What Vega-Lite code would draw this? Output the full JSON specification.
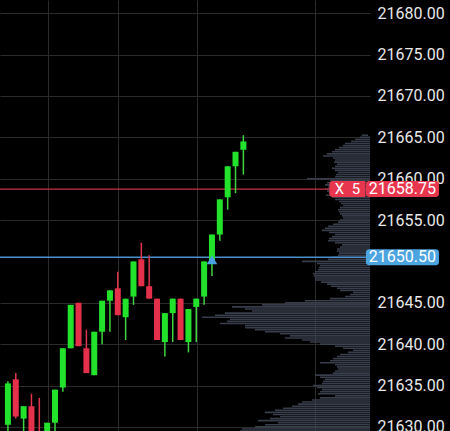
{
  "$schema": "https://vega.github.io/schema/vega-lite/v6.json",
  "width": 370,
  "height": 431,
  "autosize": {"type": "none"},
  "padding": {"left": 0, "top": 0, "right": 80, "bottom": 0},
  "background": "#000000",
  "config": {"view": {"stroke": null}, "font": "Roboto"},
  "datasets": {
    "candles": [
      {"i": 1, "o": 21630.25, "h": 21635.5, "l": 21629.0, "c": 21635.25},
      {"i": 2, "o": 21635.75, "h": 21636.5, "l": 21631.0, "c": 21631.25},
      {"i": 3, "o": 21631.0, "h": 21632.5, "l": 21629.0, "c": 21632.5},
      {"i": 4, "o": 21632.5, "h": 21634.0, "l": 21627.5, "c": 21628.0},
      {"i": 5, "o": 21629.0, "h": 21633.5, "l": 21627.0, "c": 21627.5},
      {"i": 6, "o": 21627.0, "h": 21630.5, "l": 21626.5, "c": 21630.5},
      {"i": 7, "o": 21630.5, "h": 21634.5, "l": 21629.0, "c": 21634.5},
      {"i": 8, "o": 21634.75, "h": 21639.5, "l": 21634.25, "c": 21639.5},
      {"i": 9, "o": 21639.5, "h": 21644.75, "l": 21639.5, "c": 21644.75},
      {"i": 10, "o": 21645.0, "h": 21645.0, "l": 21639.75, "c": 21639.75},
      {"i": 11, "o": 21639.5, "h": 21641.75, "l": 21636.5, "c": 21636.5},
      {"i": 12, "o": 21636.25, "h": 21641.5, "l": 21636.25, "c": 21641.5},
      {"i": 13, "o": 21641.5, "h": 21645.25, "l": 21640.0, "c": 21645.25},
      {"i": 14, "o": 21645.25, "h": 21646.5, "l": 21641.5, "c": 21646.5},
      {"i": 15, "o": 21646.75, "h": 21648.75, "l": 21643.5, "c": 21643.5},
      {"i": 16, "o": 21643.25, "h": 21645.5, "l": 21640.5, "c": 21645.5},
      {"i": 17, "o": 21645.75, "h": 21650.0, "l": 21644.75, "c": 21650.0},
      {"i": 18, "o": 21650.25, "h": 21652.25, "l": 21647.0, "c": 21647.0},
      {"i": 19, "o": 21647.0, "h": 21650.75, "l": 21645.5, "c": 21645.5},
      {"i": 20, "o": 21645.5, "h": 21645.5, "l": 21640.5, "c": 21640.5},
      {"i": 21, "o": 21640.25, "h": 21643.75, "l": 21638.5, "c": 21643.75},
      {"i": 22, "o": 21643.75, "h": 21645.5, "l": 21640.25, "c": 21645.5},
      {"i": 23, "o": 21645.5, "h": 21645.5, "l": 21640.5, "c": 21640.5},
      {"i": 24, "o": 21640.25, "h": 21644.25, "l": 21639.0, "c": 21644.25},
      {"i": 25, "o": 21644.5, "h": 21645.5, "l": 21640.25, "c": 21645.5},
      {"i": 26, "o": 21645.75, "h": 21650.0, "l": 21644.75, "c": 21650.0},
      {"i": 27, "o": 21650.0, "h": 21653.25, "l": 21648.25, "c": 21653.25},
      {"i": 28, "o": 21653.25, "h": 21657.5, "l": 21652.5, "c": 21657.5},
      {"i": 29, "o": 21657.75, "h": 21661.5, "l": 21656.25, "c": 21661.5},
      {"i": 30, "o": 21661.5, "h": 21663.25, "l": 21658.25, "c": 21663.25},
      {"i": 31, "o": 21663.5, "h": 21665.25, "l": 21660.5, "c": 21664.5}
    ],
    "levels": [
      {"price": 21658.75, "kind": "position", "label": "X\u00a0\u00a05"},
      {"price": 21650.5, "kind": "alert", "label": ""}
    ],
    "signals": [
      {"i": 27, "price": 21650.2}
    ],
    "profile": [
      {"p": 21665.25, "v": 3}, {"p": 21665.0, "v": 5}, {"p": 21664.75, "v": 10}, {"p": 21664.5, "v": 14},
      {"p": 21664.25, "v": 20}, {"p": 21664.0, "v": 22}, {"p": 21663.75, "v": 26}, {"p": 21663.5, "v": 30},
      {"p": 21663.25, "v": 33}, {"p": 21663.0, "v": 38}, {"p": 21662.75, "v": 42}, {"p": 21662.5, "v": 32},
      {"p": 21662.25, "v": 30}, {"p": 21662.0, "v": 31}, {"p": 21661.75, "v": 28}, {"p": 21661.5, "v": 30},
      {"p": 21661.25, "v": 33}, {"p": 21661.0, "v": 30}, {"p": 21660.75, "v": 27}, {"p": 21660.5, "v": 29},
      {"p": 21660.25, "v": 30}, {"p": 21660.0, "v": 58}, {"p": 21659.75, "v": 35}, {"p": 21659.5, "v": 38},
      {"p": 21659.25, "v": 40}, {"p": 21659.0, "v": 37}, {"p": 21658.75, "v": 40}, {"p": 21658.5, "v": 38},
      {"p": 21658.25, "v": 36}, {"p": 21658.0, "v": 39}, {"p": 21657.75, "v": 33}, {"p": 21657.5, "v": 30},
      {"p": 21657.25, "v": 26}, {"p": 21657.0, "v": 24}, {"p": 21656.75, "v": 22}, {"p": 21656.5, "v": 25},
      {"p": 21656.25, "v": 27}, {"p": 21656.0, "v": 26}, {"p": 21655.75, "v": 25}, {"p": 21655.5, "v": 23},
      {"p": 21655.25, "v": 22}, {"p": 21655.0, "v": 25}, {"p": 21654.75, "v": 27}, {"p": 21654.5, "v": 32},
      {"p": 21654.25, "v": 37}, {"p": 21654.0, "v": 40}, {"p": 21653.75, "v": 43}, {"p": 21653.5, "v": 36},
      {"p": 21653.25, "v": 30}, {"p": 21653.0, "v": 33}, {"p": 21652.75, "v": 36}, {"p": 21652.5, "v": 37},
      {"p": 21652.25, "v": 30}, {"p": 21652.0, "v": 23}, {"p": 21651.75, "v": 25}, {"p": 21651.5, "v": 28},
      {"p": 21651.25, "v": 28}, {"p": 21651.0, "v": 26}, {"p": 21650.75, "v": 27}, {"p": 21650.5, "v": 33},
      {"p": 21650.25, "v": 37}, {"p": 21650.0, "v": 63}, {"p": 21649.75, "v": 48}, {"p": 21649.5, "v": 45},
      {"p": 21649.25, "v": 46}, {"p": 21649.0, "v": 47}, {"p": 21648.75, "v": 50}, {"p": 21648.5, "v": 52},
      {"p": 21648.25, "v": 51}, {"p": 21648.0, "v": 50}, {"p": 21647.75, "v": 50}, {"p": 21647.5, "v": 44},
      {"p": 21647.25, "v": 38}, {"p": 21647.0, "v": 34}, {"p": 21646.75, "v": 28}, {"p": 21646.5, "v": 25},
      {"p": 21646.25, "v": 12}, {"p": 21646.0, "v": 15}, {"p": 21645.75, "v": 20}, {"p": 21645.5, "v": 35},
      {"p": 21645.25, "v": 60}, {"p": 21645.0, "v": 80}, {"p": 21644.75, "v": 103}, {"p": 21644.5, "v": 133},
      {"p": 21644.25, "v": 120}, {"p": 21644.0, "v": 113}, {"p": 21643.75, "v": 140}, {"p": 21643.5, "v": 150},
      {"p": 21643.25, "v": 163}, {"p": 21643.0, "v": 135}, {"p": 21642.75, "v": 138}, {"p": 21642.5, "v": 145},
      {"p": 21642.25, "v": 120}, {"p": 21642.0, "v": 120}, {"p": 21641.75, "v": 110}, {"p": 21641.5, "v": 100},
      {"p": 21641.25, "v": 85}, {"p": 21641.0, "v": 75}, {"p": 21640.75, "v": 80}, {"p": 21640.5, "v": 63},
      {"p": 21640.25, "v": 55}, {"p": 21640.0, "v": 45}, {"p": 21639.75, "v": 30}, {"p": 21639.5, "v": 22},
      {"p": 21639.25, "v": 12}, {"p": 21639.0, "v": 17}, {"p": 21638.75, "v": 25}, {"p": 21638.5, "v": 28},
      {"p": 21638.25, "v": 32}, {"p": 21638.0, "v": 35}, {"p": 21637.75, "v": 45}, {"p": 21637.5, "v": 30},
      {"p": 21637.25, "v": 28}, {"p": 21637.0, "v": 27}, {"p": 21636.75, "v": 30}, {"p": 21636.5, "v": 32},
      {"p": 21636.25, "v": 50}, {"p": 21636.0, "v": 45}, {"p": 21635.75, "v": 40}, {"p": 21635.5, "v": 42},
      {"p": 21635.25, "v": 43}, {"p": 21635.0, "v": 52}, {"p": 21634.75, "v": 48}, {"p": 21634.5, "v": 43},
      {"p": 21634.25, "v": 45}, {"p": 21634.0, "v": 47}, {"p": 21633.75, "v": 30}, {"p": 21633.5, "v": 45},
      {"p": 21633.25, "v": 53}, {"p": 21633.0, "v": 63}, {"p": 21632.75, "v": 67}, {"p": 21632.5, "v": 73},
      {"p": 21632.25, "v": 82}, {"p": 21632.0, "v": 90}, {"p": 21631.75, "v": 100}, {"p": 21631.5, "v": 92},
      {"p": 21631.25, "v": 85}, {"p": 21631.0, "v": 95}, {"p": 21630.75, "v": 107}, {"p": 21630.5, "v": 87},
      {"p": 21630.25, "v": 100}, {"p": 21630.0, "v": 110}, {"p": 21629.75, "v": 123}, {"p": 21629.5, "v": 125}
    ]
  },
  "encoding": {
    "x": {"type": "quantitative", "scale": {"domain": [0.628, 46.5], "nice": false, "zero": false},
      "axis": {"values": [6.1, 15.05, 25.15, 40.1], "labels": false, "ticks": false, "domain": false, "grid": true, "gridColor": "#2b2b2b", "gridWidth": 1, "title": null, "zindex": 0}},
    "y": {"type": "quantitative", "scale": {"domain": [21629.5, 21681.6], "nice": false, "zero": false},
      "axis": {"orient": "right", "values": [21630, 21635, 21640, 21645, 21655, 21660, 21665, 21670, 21675, 21680], "format": ".2f",
        "labelFont": "Roboto", "labelFontSize": 16, "labelColor": "#e8e8e8", "labelPadding": 7, "labelOverlap": false,
        "ticks": false, "domain": false, "grid": true, "gridColor": "#2b2b2b", "gridWidth": 1, "title": null, "zindex": 0}}
  },
  "layer": [
    {
      "data": {"name": "profile"},
      "mark": {"type": "tick", "orient": "horizontal", "thickness": 1.6, "clip": true, "color": "#3f4654", "opacity": 0.88},
      "encoding": {
        "x": {"datum": 46.5},
        "y": {"field": "p"},
        "size": {"field": "v", "type": "quantitative", "scale": {"domain": [0, 370], "range": [0, 740], "zero": true}, "legend": null}
      }
    },
    {
      "data": {"name": "levels"},
      "mark": {"type": "rule"},
      "encoding": {
        "y": {"field": "price"},
        "color": {"condition": {"test": "datum.kind == 'position'", "value": "#c8313f"}, "value": "#4b90cb"},
        "strokeWidth": {"condition": {"test": "datum.kind == 'position'", "value": 1.2}, "value": 1.6}
      }
    },
    {
      "data": {"name": "candles"},
      "mark": {"type": "rule", "strokeWidth": 1.5},
      "encoding": {
        "x": {"field": "i"},
        "y": {"field": "l"},
        "y2": {"field": "h"},
        "color": {"condition": {"test": "datum.c >= datum.o", "value": "#3fd43f"}, "value": "#e0354c"}
      }
    },
    {
      "data": {"name": "candles"},
      "mark": {"type": "bar", "size": 6},
      "encoding": {
        "x": {"field": "i"},
        "y": {"field": "o"},
        "y2": {"field": "c"},
        "color": {"condition": {"test": "datum.c >= datum.o", "value": "#22e22b"}, "value": "#e4304a"}
      }
    },
    {
      "data": {"name": "signals"},
      "mark": {"type": "point", "shape": "triangle-up", "size": 110, "filled": true, "opacity": 1, "color": "#4aa0e0"},
      "encoding": {
        "x": {"field": "i"},
        "y": {"field": "price"}
      }
    },
    {
      "data": {"name": "levels"},
      "mark": {"type": "point", "filled": true, "opacity": 1, "size": 1024,
        "shape": "M-2.094,-0.5H2.094A0.1875,0.1875 0 0 1 2.281,-0.3125V0.3125A0.1875,0.1875 0 0 1 2.094,0.5H-2.094A0.1875,0.1875 0 0 1 -2.281,0.3125V-0.3125A0.1875,0.1875 0 0 1 -2.094,-0.5Z"},
      "encoding": {
        "x": {"datum": 51.27},
        "y": {"field": "price"},
        "color": {"condition": {"test": "datum.kind == 'position'", "value": "#e8364f"}, "value": "#4ca4e0"}
      }
    },
    {
      "data": {"name": "levels"},
      "transform": [{"filter": "datum.kind == 'position'"}],
      "mark": {"type": "point", "filled": true, "opacity": 1, "size": 1024, "color": "#e8364f",
        "shape": "M-0.9375,-0.5H1.125V0.5H-0.9375A0.1875,0.1875 0 0 1 -1.125,0.3125V-0.3125A0.1875,0.1875 0 0 1 -0.9375,-0.5Z"},
      "encoding": {
        "x": {"datum": 44.26},
        "y": {"field": "price"}
      }
    },
    {
      "data": {"name": "levels"},
      "mark": {"type": "text", "font": "Roboto", "fontSize": 16, "color": "#ffffff", "align": "center", "baseline": "middle"},
      "encoding": {
        "x": {"datum": 51.27},
        "y": {"field": "price"},
        "text": {"field": "price", "type": "quantitative", "format": ".2f"}
      }
    },
    {
      "data": {"name": "levels"},
      "transform": [{"filter": "datum.kind == 'position'"}],
      "mark": {"type": "text", "font": "Roboto", "fontSize": 15, "color": "#ffffff", "align": "center", "baseline": "middle"},
      "encoding": {
        "x": {"datum": 44.26},
        "y": {"field": "price"},
        "text": {"field": "label", "type": "nominal"}
      }
    }
  ]
}
